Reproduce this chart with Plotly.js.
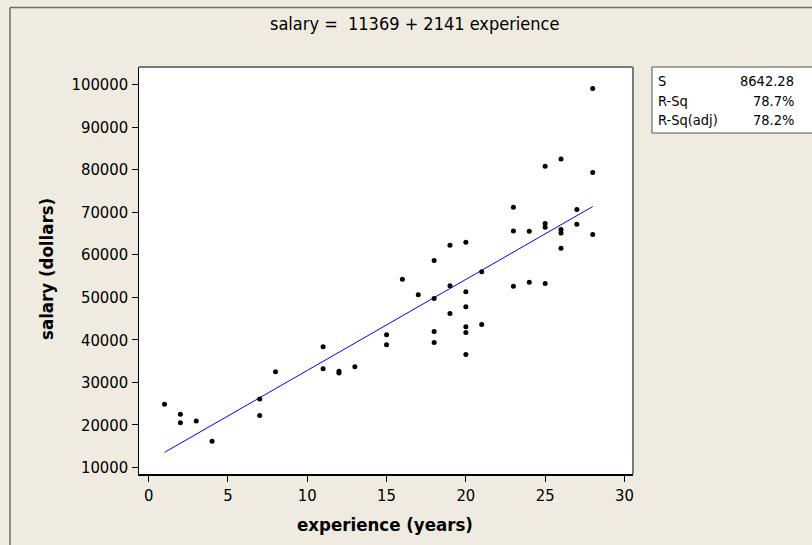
<!DOCTYPE html>
<html>
<head>
<meta charset="utf-8">
<script src="https://cdn.plot.ly/plotly-3.0.1.min.js"></script>
<style>
  html, body { margin: 0; padding: 0; background: #EFEBE1; }
  #chart { width: 812px; height: 545px; }
</style>
</head>
<body>
<div id="chart"></div>
<script>
// ---- data ----
const experience = [1, 2, 2, 3, 4, 7, 7, 8, 11, 11, 12, 12, 13, 15, 15, 16, 17,
  18, 18, 18, 18, 19, 19, 19, 20, 20, 20, 20, 20, 20, 21, 21, 23, 23, 23, 24, 24,
  25, 25, 25, 25, 26, 26, 26, 26, 27, 27, 28, 28, 28];
const salary = [24800, 22450, 20480, 20880, 16100, 26050, 22200, 32460, 38340, 33170,
  32200, 32600, 33640, 41160, 38810, 54240, 50550, 58640, 49710, 41960, 39370,
  62230, 52670, 46180, 62940, 51260, 47735, 43035, 41720, 36550, 55960, 43600,
  71160, 65590, 52600, 65520, 53540, 80790, 67330, 66460, 53230, 82510, 65920,
  65120, 61530, 70620, 67170, 99050, 79310, 64750];
const fitExperience = [1, 28];
const fitSalary = [13510, 71317];
const xTicks = [0, 5, 10, 15, 20, 25, 30];
const yTicks = [10000, 20000, 30000, 40000, 50000, 60000, 70000, 80000, 90000, 100000];
const statLabels = ['S', 'R-Sq', 'R-Sq(adj)'];
const statValues = ['8642.28', '78.7%', '78.2%'];
const chartTitle = 'salary =  11369 + 2141 experience';
const xTitle = 'experience (years)';
const yTitle = 'salary (dollars)';

// ---- layout geometry ----
const W = 812, H = 545;
const mL = 139, mR = 179, mT = 67, mB = 71;
const FONT = '"DejaVu Sans Condensed", "DejaVu Sans", sans-serif';
const pw = W - mL - mR, ph = H - mT - mB;
const ax = v => (v - mL) / pw;      // pixel -> paper x
const ay = v => 1 - (v - mT) / ph;  // pixel -> paper y

const traces = [
  {
    x: fitExperience, y: fitSalary, type: 'scatter', mode: 'lines',
    line: { color: '#0000FF', width: 1 }, hoverinfo: 'skip', showlegend: false
  },
  {
    x: experience, y: salary, type: 'scatter', mode: 'markers',
    marker: { color: '#000000', size: 5 }, showlegend: false
  }
];

const annotations = [
  { text: chartTitle, xref: 'paper', yref: 'paper', x: ax(414), y: ay(23),
    xanchor: 'center', yanchor: 'middle', showarrow: false,
    font: { family: FONT, size: 18, color: '#000' } },
  { text: xTitle, xref: 'paper', yref: 'paper', x: ax(385), y: ay(524),
    xanchor: 'center', yanchor: 'middle', showarrow: false,
    font: { family: FONT, size: 18.5, color: '#000', weight: 'bold' } },
  { text: yTitle, xref: 'paper', yref: 'paper', x: ax(46), y: ay(269),
    xanchor: 'center', yanchor: 'middle', showarrow: false, textangle: -90,
    font: { family: FONT, size: 18.5, color: '#000', weight: 'bold' } }
];
const rowY = [81, 101, 120.5];
statLabels.forEach((lab, i) => {
  annotations.push({ text: lab, xref: 'paper', yref: 'paper', x: ax(656), y: ay(rowY[i]),
    xanchor: 'left', yanchor: 'middle', showarrow: false,
    font: { family: FONT, size: 14.5, color: '#000' } });
  annotations.push({ text: statValues[i], xref: 'paper', yref: 'paper', x: ax(796), y: ay(rowY[i]),
    xanchor: 'right', yanchor: 'middle', showarrow: false,
    font: { family: FONT, size: 14.5, color: '#000' } });
});

const shapes = [
  // outer frame (top and left edges)
  { type: 'line', xref: 'paper', yref: 'paper', x0: ax(10), x1: ax(812), y0: ay(7.5), y1: ay(7.5),
    line: { color: '#6E6E6E', width: 1.5 } },
  { type: 'line', xref: 'paper', yref: 'paper', x0: ax(10), x1: ax(10), y0: ay(7.5), y1: ay(545),
    line: { color: '#6E6E6E', width: 1.5 } },
  // plot frame top/right (grey)
  { type: 'line', xref: 'paper', yref: 'paper', x0: 0, x1: 1, y0: 1, y1: 1,
    line: { color: '#7A7A7A', width: 2 } },
  { type: 'line', xref: 'paper', yref: 'paper', x0: 1, x1: 1, y0: 0, y1: 1,
    line: { color: '#7A7A7A', width: 2 } },
  // stats box
  { type: 'rect', xref: 'paper', yref: 'paper', x0: ax(652), x1: ax(822), y0: ay(67), y1: ay(133),
    fillcolor: '#FFFFFF', line: { color: '#505050', width: 1 } }
];

const layout = {
  width: W, height: H,
  margin: { l: mL, r: mR, t: mT, b: mB, pad: 0 },
  paper_bgcolor: '#EFEBE1',
  plot_bgcolor: '#FFFFFF',
  font: { family: FONT, size: 14, color: '#000' },
  showlegend: false,
  xaxis: {
    range: [-0.61, 30.54], tickvals: xTicks, ticktext: xTicks.map(String),
    ticks: 'outside', ticklen: 6, tickcolor: '#000', tickwidth: 1,
    showline: true, linecolor: '#000', linewidth: 1.5, mirror: false,
    showgrid: false, zeroline: false,
    tickfont: { family: FONT, size: 16.5, color: '#000' }
  },
  yaxis: {
    range: [8426, 104135], tickvals: yTicks, ticktext: yTicks.map(String),
    ticks: 'outside', ticklen: 6, tickcolor: '#000', tickwidth: 1,
    showline: true, linecolor: '#000', linewidth: 1.5, mirror: false,
    showgrid: false, zeroline: false,
    tickfont: { family: FONT, size: 16.5, color: '#000' }
  },
  annotations: annotations,
  shapes: shapes
};

Plotly.newPlot('chart', traces, layout, { displayModeBar: false, staticPlot: true });
</script>
</body>
</html>
